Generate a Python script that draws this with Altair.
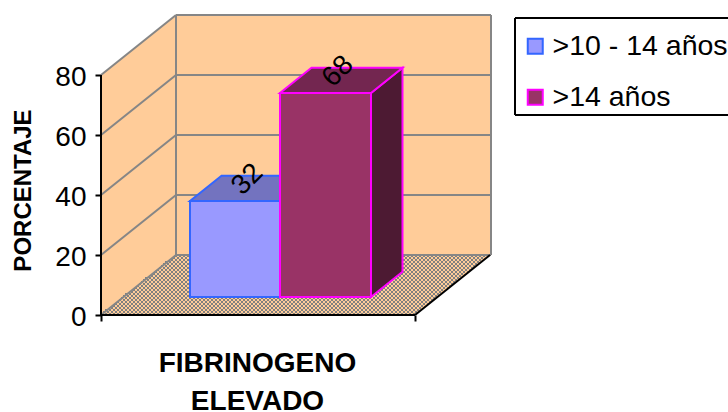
import altair as alt
import pandas as pd

# Chart values
series = [">10 - 14 años", ">14 años"]
values = [32, 68]
y_ticks = [0, 20, 40, 60, 80]

# Colours of each bar's faces and edges
front = ["#9999FF", "#993366"]
top = ["#7373BF", "#732650"]
side = ["#4D4D80", "#4D1A33"]
edge = ["#3366FF", "#FF00FF"]

WALL = "#FFCC99"
GREY = "#868686"
FONT = "Liberation Sans"

# Oblique projection: depth 1 shifts a point right and up the value axis
DEPTH_X = 75
DEPTH_V = 20
FLOOR_W = 314
BAR_U = [66.5, 156.5, 247.5]
BAR_D = (0.30, 0.72)


def px(u, d):
    return u + DEPTH_X * d


def pv(v, d):
    return v + DEPTH_V * d


X = alt.Scale(domain=[0, 390], nice=False, zero=False)
Y = alt.Scale(domain=[0, 100], nice=False, zero=False)

x_axis = alt.Axis(
    values=[0, FLOOR_W],
    labels=False,
    domain=False,
    grid=False,
    tickColor="#000000",
    tickWidth=2,
    tickSize=6,
    title=["FIBRINOGENO", "ELEVADO"],
    titleFont=FONT,
    titleFontSize=28,
    titleFontWeight="bold",
    titleColor="#000000",
    titleLineHeight=38,
    titleX=156,
    titleY=56,
    titleBaseline="alphabetic",
)
y_axis = alt.Axis(
    values=y_ticks,
    domain=False,
    grid=False,
    tickColor="#000000",
    tickWidth=2,
    tickSize=6,
    labelFont=FONT,
    labelFontSize=28,
    labelColor="#000000",
    labelPadding=9,
    labelOffset=2,
    title="PORCENTAJE",
    titleFont=FONT,
    titleFontSize=24,
    titleFontWeight="bold",
    titleColor="#000000",
    titleX=-71,
    titleY=175,
    titleBaseline="alphabetic",
)
x_q = alt.X("x:Q", scale=X, axis=x_axis)
y_q = alt.Y("y:Q", scale=Y, axis=y_axis)


def segments(rows, color, width=2):
    df = pd.DataFrame(rows, columns=["x", "y", "x2", "y2"])
    return alt.Chart(df).mark_rule(color=color, strokeWidth=width).encode(
        x=x_q, y=y_q, x2="x2:Q", y2="y2:Q"
    )


def slanted_vertical(x0, x1, lo0, lo1, hi0, hi1, fill, stroke=None, width=2):
    """Face whose left and right edges are upright."""
    df = pd.DataFrame({"x": [x0, x1], "y": [lo0, lo1], "y2": [hi0, hi1]})
    kw = dict(stroke=stroke, strokeWidth=width) if stroke else {}
    return alt.Chart(df).mark_area(color=fill, opacity=1, **kw).encode(
        x=x_q, y=y_q, y2="y2:Q"
    )


def slanted_horizontal(y0, y1, l0, l1, r0, r1, fill, stroke=None, width=2):
    """Face whose near and far edges are level."""
    df = pd.DataFrame({"y": [y0, y1], "x": [l0, l1], "x2": [r0, r1]})
    kw = dict(stroke=stroke, strokeWidth=width) if stroke else {}
    return alt.Chart(df).mark_area(color=fill, opacity=1, orient="horizontal", **kw).encode(
        y=y_q, x=x_q, x2="x2:Q"
    )


layers = []

# Walls
layers.append(slanted_vertical(0, DEPTH_X, 0, DEPTH_V, 80, 100, WALL))
layers.append(slanted_vertical(DEPTH_X, 390, DEPTH_V, DEPTH_V, 100, 100, WALL))

# Gridlines across both walls
grid = []
for t in y_ticks[1:]:
    grid.append((0, t, DEPTH_X, t + DEPTH_V))
    grid.append((DEPTH_X, t + DEPTH_V, 390, t + DEPTH_V))
grid.append((DEPTH_X, 100, 390, 100))
grid.append((DEPTH_X, DEPTH_V, DEPTH_X, 100))
grid.append((390, DEPTH_V, 390, 100))
layers.append(segments(grid, GREY))

# Checkered floor
layers.append(slanted_horizontal(0, DEPTH_V, 0, DEPTH_X, FLOOR_W, FLOOR_W + DEPTH_X, WALL))
cells = []
for r in range(0, 60, 2):
    left = r * DEPTH_X / 60
    c = int(left) // 2 * 2
    while c < FLOOR_W + left:
        if c >= left - 1 and (c // 2 + r // 2) % 2 == 0:
            cells.append({"x": c, "x2": c + 2, "y": r / 3, "y2": (r + 2) / 3})
        c += 2
layers.append(
    alt.Chart(pd.DataFrame(cells)).mark_rect(color="#808080").encode(
        x=x_q, x2="x2:Q", y=y_q, y2="y2:Q"
    )
)
layers.append(segments([(0, 0, DEPTH_X, DEPTH_V), (DEPTH_X, DEPTH_V, 390, DEPTH_V)], GREY))

# Axis lines and the right floor edge
layers.append(
    segments(
        [(0, 0, 0, 80), (0, 0, FLOOR_W, 0), (FLOOR_W, 0, FLOOR_W + DEPTH_X, DEPTH_V)],
        "#000000",
    )
)

# Frame of the legend; it runs out past the right edge of the page
BOX_L, BOX_R, BOX_T, BOX_B = 414, 640, 99, 66.67
layers.append(
    segments(
        [
            (BOX_L, BOX_B, BOX_L, BOX_T),
            (BOX_L, BOX_T, BOX_R, BOX_T),
            (BOX_L, BOX_B, BOX_R, BOX_B),
        ],
        "#000000",
    )
)

# Bars: tops and sides first, then the front faces
d0, d1 = BAR_D
for i, v in enumerate(values):
    a, b = BAR_U[i], BAR_U[i + 1]
    layers.append(
        slanted_vertical(
            px(b, d0), px(b, d1), pv(0, d0), pv(0, d1), pv(v, d0), pv(v, d1), side[i], edge[i]
        )
    )
    layers.append(
        slanted_horizontal(
            pv(v, d0), pv(v, d1), px(a, d0), px(a, d1), px(b, d0), px(b, d1), top[i], edge[i]
        )
    )

bars = pd.DataFrame(
    {
        "serie": series,
        "valor": values,
        "x": [px(BAR_U[i], d0) for i in range(2)],
        "x2": [px(BAR_U[i + 1], d0) for i in range(2)],
        "y": [pv(0, d0)] * 2,
        "y2": [pv(v, d0) for v in values],
        "lx": [px((BAR_U[i] + BAR_U[i + 1]) / 2, (d0 + d1) / 2) for i in range(2)],
        "ly": [pv(v, (d0 + d1) / 2) for v in values],
    }
)

layers.append(
    alt.Chart(bars).mark_rect(strokeWidth=2).encode(
        x=x_q,
        x2="x2:Q",
        y=y_q,
        y2="y2:Q",
        fill=alt.Fill(
            "serie:N",
            scale=alt.Scale(domain=series, range=front),
            legend=alt.Legend(
                title=None,
                orient="none",
                legendX=420,
                legendY=17,
                symbolType="square",
                symbolSize=225,
                symbolStrokeWidth=2,
                symbolOpacity=1,
                labelFont=FONT,
                labelFontSize=28.5,
                labelColor="#000000",
                labelOffset=3,
                labelLimit=300,
                rowPadding=22,
                padding=0,
            ),
        ),
        stroke=alt.Stroke("serie:N", scale=alt.Scale(domain=series, range=edge)),
    )
)

# Value labels lying across the bar tops
layers.append(
    alt.Chart(bars).mark_text(
        angle=315,
        font=FONT,
        fontSize=28,
        color="#000000",
        align="center",
        baseline="middle",
        dx=4,
        dy=-8.5,
    ).encode(
        x=alt.X("lx:Q", scale=X, axis=x_axis),
        y=alt.Y("ly:Q", scale=Y, axis=y_axis),
        text="valor:Q",
    )
)

chart = (
    alt.layer(*layers)
    .resolve_scale(x="shared", y="shared")
    .properties(
        width=390,
        height=300,
        autosize=alt.AutoSizeParams(type="none"),
        padding={"left": 101, "top": 15, "right": 237, "bottom": 97},
        background="#FFFFFF",
    )
    .configure_view(stroke=None)
)

chart.save("out.html", embed_options={"renderer": "svg", "actions": False})
